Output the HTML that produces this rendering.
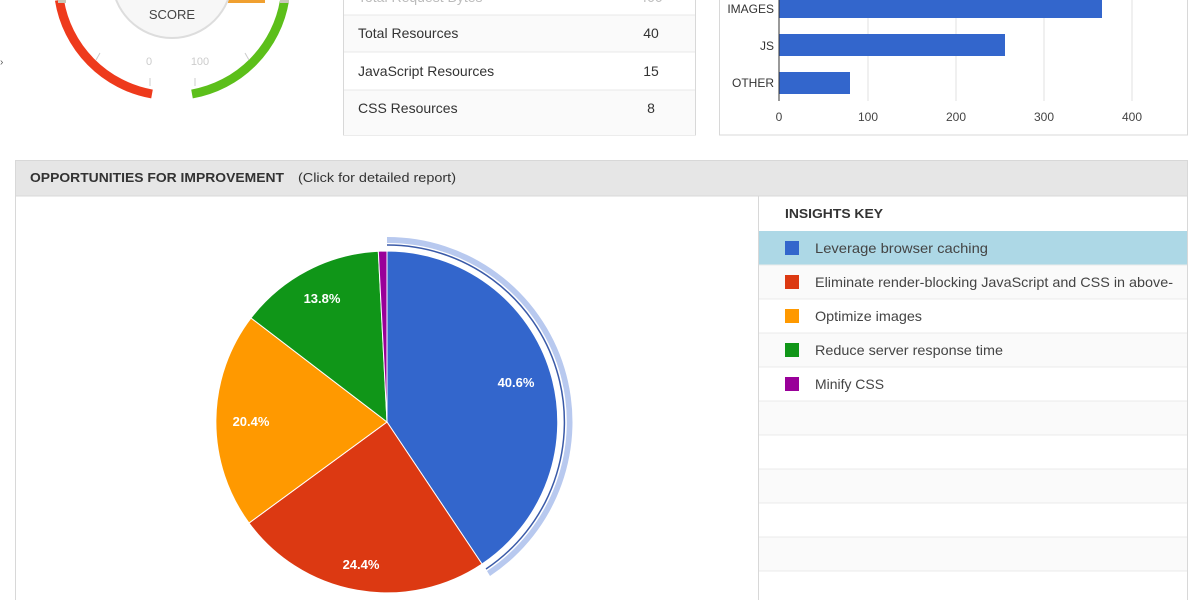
<!DOCTYPE html>
<html><head><meta charset="utf-8"><style>
html,body{margin:0;padding:0;background:#fff;width:1200px;height:600px;overflow:hidden}
svg{display:block;font-family:"Liberation Sans",Arial,sans-serif}
</style></head><body>
<svg width="1200" height="600" viewBox="0 0 1200 600" xmlns="http://www.w3.org/2000/svg">
<!-- gauge -->
<path d="M59.4,0 A114,114 0 0 0 152,94" fill="none" stroke="#ee3a1c" stroke-width="9"/>
<path d="M192,94 A114,114 0 0 0 284.6,0" fill="none" stroke="#5cbf1a" stroke-width="9"/>
<rect x="58" y="0" width="8" height="3" fill="#c8c8b8"/>
<rect x="280" y="0" width="9" height="3" fill="#c8c8b8"/>
<rect x="228" y="0" width="37" height="3" fill="#f0a030"/>
<circle cx="172" cy="-22" r="61" fill="#ddd"/>
<circle cx="172" cy="-22" r="59" fill="#f7f7f7"/>
<text x="172" y="19" font-size="13" fill="#444" text-anchor="middle">SCORE</text>
<text x="149" y="65" font-size="11" fill="#ccc" text-anchor="middle">0</text>
<text x="200" y="65" font-size="11" fill="#ccc" text-anchor="middle">100</text>
<line x1="96" y1="60" x2="100" y2="53" stroke="#ccc"/>
<line x1="249" y1="60" x2="245" y2="53" stroke="#ccc"/>
<line x1="150" y1="78" x2="150" y2="86" stroke="#ccc"/>
<line x1="195" y1="78" x2="195" y2="86" stroke="#ccc"/>
<text x="0" y="65" font-size="10" fill="#555">›</text>
<!-- table -->
<rect x="343.5" y="-5" width="352" height="140" fill="#fff" stroke="#d8d8d8"/>
<rect x="344" y="15" width="351" height="37" fill="#fafafa"/>
<rect x="344" y="90" width="351" height="45" fill="#fafafa"/>
<line x1="344" y1="15" x2="695" y2="15" stroke="#e8e8e8"/>
<line x1="344" y1="52" x2="695" y2="52" stroke="#e8e8e8"/>
<line x1="344" y1="90" x2="695" y2="90" stroke="#e8e8e8"/>
<g font-size="14" fill="#333">
<text x="358" y="2" fill="#bbb">Total Request Bytes</text><text x="651" y="2" fill="#bbb" text-anchor="middle">400</text>
<text x="358" y="38">Total Resources</text><text x="651" y="38" text-anchor="middle">40</text>
<text x="358" y="76">JavaScript Resources</text><text x="651" y="76" text-anchor="middle">15</text>
<text x="358" y="113">CSS Resources</text><text x="651" y="113" text-anchor="middle">8</text>
</g>
<!-- bar chart -->
<rect x="719.5" y="-5" width="468" height="140" fill="#fff" stroke="#d8d8d8"/>
<g stroke="#e0e0e0"><line x1="868" y1="0" x2="868" y2="101"/><line x1="956" y1="0" x2="956" y2="101"/><line x1="1044" y1="0" x2="1044" y2="101"/><line x1="1132" y1="0" x2="1132" y2="101"/></g>
<rect x="779" y="-4" width="323" height="22" fill="#3366cc"/>
<rect x="779" y="34" width="226" height="22" fill="#3366cc"/>
<rect x="779" y="72" width="71" height="22" fill="#3366cc"/>
<line x1="779" y1="0" x2="779" y2="101" stroke="#333"/>
<g font-size="12" fill="#333" text-anchor="end">
<text x="774" y="13">IMAGES</text><text x="774" y="50">JS</text><text x="774" y="87">OTHER</text></g>
<g font-size="12" fill="#444" text-anchor="middle">
<text x="779" y="121">0</text><text x="868" y="121">100</text><text x="956" y="121">200</text><text x="1044" y="121">300</text><text x="1132" y="121">400</text></g>
<!-- bottom panel -->
<rect x="15.5" y="160.5" width="1172" height="450" fill="#fff" stroke="#d8d8d8"/>
<rect x="16" y="161" width="1171" height="35" fill="#e6e6e6"/>
<line x1="16" y1="196" x2="1187" y2="196" stroke="#d8d8d8"/>
<text x="30" y="182" font-size="13" font-weight="bold" fill="#333" textLength="254" lengthAdjust="spacingAndGlyphs">OPPORTUNITIES FOR IMPROVEMENT</text>
<text x="298" y="182" font-size="13" fill="#333" textLength="158" lengthAdjust="spacingAndGlyphs">(Click for detailed report)</text>
<line x1="758.5" y1="196" x2="758.5" y2="600" stroke="#d8d8d8"/>
<text x="785" y="218" font-size="13" font-weight="bold" fill="#333" textLength="98" lengthAdjust="spacingAndGlyphs">INSIGHTS KEY</text>
<g fill="#fafafa"><rect x="759" y="265" width="428" height="34"/><rect x="759" y="333" width="428" height="34"/><rect x="759" y="401" width="428" height="34"/><rect x="759" y="469" width="428" height="34"/><rect x="759" y="537" width="428" height="34"/></g>
<rect x="759" y="231" width="428" height="34" fill="#add8e6"/>
<g stroke="#ebebeb"><line x1="759" y1="265" x2="1187" y2="265"/><line x1="759" y1="299" x2="1187" y2="299"/><line x1="759" y1="333" x2="1187" y2="333"/><line x1="759" y1="367" x2="1187" y2="367"/><line x1="759" y1="401" x2="1187" y2="401"/><line x1="759" y1="435" x2="1187" y2="435"/><line x1="759" y1="469" x2="1187" y2="469"/><line x1="759" y1="503" x2="1187" y2="503"/><line x1="759" y1="537" x2="1187" y2="537"/><line x1="759" y1="571" x2="1187" y2="571"/></g>
<rect x="785" y="241" width="14" height="14" fill="#3366cc"/>
<rect x="785" y="275" width="14" height="14" fill="#dc3912"/>
<rect x="785" y="309" width="14" height="14" fill="#ff9900"/>
<rect x="785" y="343" width="14" height="14" fill="#109618"/>
<rect x="785" y="377" width="14" height="14" fill="#990099"/>
<g font-size="14" fill="#444">
<text x="815" y="253" textLength="173" lengthAdjust="spacingAndGlyphs">Leverage browser caching</text>
<text x="815" y="287" textLength="358" lengthAdjust="spacingAndGlyphs">Eliminate render-blocking JavaScript and CSS in above-</text>
<text x="815" y="321" textLength="107" lengthAdjust="spacingAndGlyphs">Optimize images</text>
<text x="815" y="355" textLength="188" lengthAdjust="spacingAndGlyphs">Reduce server response time</text>
<text x="815" y="389" textLength="69" lengthAdjust="spacingAndGlyphs">Minify CSS</text>
</g>
<!-- pie -->
<path d="M387,237 A185,185 0 0 1 490,576 L487,571 A179,179 0 0 0 387,243 Z" fill="#b8c9ef"/>
<path d="M387,245 A177,177 0 0 1 486,569" fill="none" stroke="#3a5aa8" stroke-width="1.5"/>
<g stroke="#fff" stroke-width="1">
<path d="M387,422 L387,251 A171,171 0 0 1 482,564 Z" fill="#3366cc"/>
<path d="M387,422 L482,564 A171,171 0 0 1 249,523 Z" fill="#dc3912"/>
<path d="M387,422 L249,523 A171,171 0 0 1 251,318 Z" fill="#ff9900"/>
<path d="M387,422 L251,318 A171,171 0 0 1 378.3,251.2 Z" fill="#109618"/>
<path d="M387,422 L378.3,251.2 A171,171 0 0 1 387,251 Z" fill="#990099"/>
</g>
<g font-size="13" font-weight="bold" fill="#fff" text-anchor="middle">
<text x="516" y="387">40.6%</text>
<text x="361" y="569">24.4%</text>
<text x="251" y="426">20.4%</text>
<text x="322" y="303">13.8%</text>
</g>
</svg>
</body></html>
